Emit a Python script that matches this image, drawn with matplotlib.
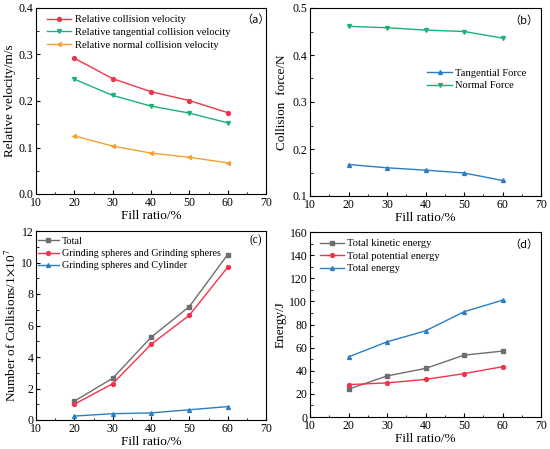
import matplotlib.pyplot as plt
from matplotlib.ticker import MultipleLocator

plt.rcParams['font.family'] = ['Liberation Serif', 'DejaVu Serif']
plt.rcParams['mathtext.fontset'] = 'stix'

fill = [20, 30, 40, 50, 60]

# (a) relative velocities, m/s
vel_total = [0.292, 0.248, 0.220, 0.201, 0.175]
vel_tang = [0.247, 0.212, 0.189, 0.174, 0.153]
vel_norm = [0.125, 0.103, 0.088, 0.079, 0.067]

# (b) collision force, N
force_tang = [0.167, 0.160, 0.155, 0.149, 0.133]
force_norm = [0.461, 0.458, 0.453, 0.450, 0.436]

# (c) number of collisions, 1e7
coll_total = [1.2, 2.65, 5.25, 7.2, 10.5]
coll_gg = [1.0, 2.3, 4.8, 6.65, 9.7]
coll_gc = [0.25, 0.4, 0.45, 0.65, 0.85]

# (d) energy, J
en_kin = [24, 35.5, 42, 53.5, 57]
en_pot = [28, 29.5, 32.5, 37.5, 43.5]
en_tot = [52, 65, 74.5, 91, 101]

RED = '#f2334d'
GREEN = '#1bb277'
ORANGE = '#f5a030'
BLUE = '#2a7fc4'
GRAY = '#6e6e6e'

fig = plt.figure(figsize=(5.5, 4.49), dpi=100)
W, H = 550, 449


def add_ax(l, t, r, b):
    return fig.add_axes([l / W, 1 - b / H, (r - l) / W, (b - t) / H])


def style(ax, ymax, ystep, ymin=0):
    ax.set_xlim(10, 70)
    ax.set_ylim(ymin, ymax)
    ax.xaxis.set_major_locator(MultipleLocator(10))
    ax.xaxis.set_minor_locator(MultipleLocator(5))
    ax.yaxis.set_major_locator(MultipleLocator(ystep))
    ax.yaxis.set_minor_locator(MultipleLocator(ystep / 2))
    ax.tick_params(which='both', direction='in', labelsize=8.5, top=False, right=False, pad=2)
    ax.tick_params(which='major', length=3)
    ax.tick_params(which='minor', length=1.8)
    ax.set_xlabel('Fill ratio/%', fontsize=9.5, labelpad=1)
    for s in ax.spines.values():
        s.set_linewidth(0.8)


kw = dict(lw=1.0, ms=2.8)
leg_kw = dict(frameon=False, fontsize=7.6, handlelength=2.3, handletextpad=0.3,
              labelspacing=0.3, borderaxespad=0.2, borderpad=0.2)
TAG = dict(fontsize=8, ha='center', va='center', family=['Noto Sans CJK SC', 'Liberation Serif'])

# (a)
ax = add_ax(36, 8, 266, 194)
ax.plot(fill, vel_total, '-o', color=RED, label='Relative collision velocity', **kw)
ax.plot(fill, vel_tang, '-v', color=GREEN, label='Relative tangential collision velocity', **kw)
ax.plot(fill, vel_norm, '-<', color=ORANGE, label='Relative normal collision velocity', **kw)
style(ax, 0.4, 0.1)
ax.set_ylabel('Relative velocity/m/s', fontsize=9.5, labelpad=2)
ax.legend(loc='upper left', bbox_to_anchor=(0.03, 0.985), **leg_kw)
ax.text(0.955, 0.935, '\uff08a\uff09', transform=ax.transAxes, **TAG)

# (b)
ax = add_ax(310, 8, 541, 196)
ax.plot(fill, force_tang, '-^', color=BLUE, label='Tangential Force', **kw)
ax.plot(fill, force_norm, '-v', color=GREEN, label='Normal Force', **kw)
style(ax, 0.5, 0.1, ymin=0.1)
ax.set_ylabel('Collision  force/N', fontsize=9.5, labelpad=3)
ax.legend(loc='center left', bbox_to_anchor=(0.49, 0.62), **leg_kw)
ax.text(0.925, 0.935, '\uff08b\uff09', transform=ax.transAxes, **TAG)

# (c)
ax = add_ax(36, 231, 266, 420)
ax.plot(fill, coll_total, '-s', color=GRAY, label='Total', **kw)
ax.plot(fill, coll_gg, '-o', color=RED, label='Grinding spheres and Grinding spheres', **kw)
ax.plot(fill, coll_gc, '-^', color=BLUE, label='Grinding spheres and Cylinder', **kw)
style(ax, 12, 2)
ax.set_ylabel(r'Number of Collisions/1$\times$10$^7$', fontsize=9.5, labelpad=3)
leg_c = dict(leg_kw, fontsize=7.3, handlelength=2.1)
ax.legend(loc='upper left', bbox_to_anchor=(-0.01, 0.99), **leg_c)
ax.text(0.955, 0.95, '(c)', transform=ax.transAxes, fontsize=8.3, ha='center', va='center')

# (d)
ax = add_ax(310, 232, 541, 417)
ax.plot(fill, en_kin, '-s', color=GRAY, label='Total kinetic energy', **kw)
ax.plot(fill, en_pot, '-o', color=RED, label='Total potential energy', **kw)
ax.plot(fill, en_tot, '-^', color=BLUE, label='Total energy', **kw)
style(ax, 160, 20)
ax.set_ylabel('Energy/J', fontsize=9.5, labelpad=2)
ax.legend(loc='upper left', bbox_to_anchor=(0.025, 0.985), **leg_kw)
ax.text(0.925, 0.93, '\uff08d\uff09', transform=ax.transAxes, **TAG)

fig.savefig('out.png', dpi=100)
